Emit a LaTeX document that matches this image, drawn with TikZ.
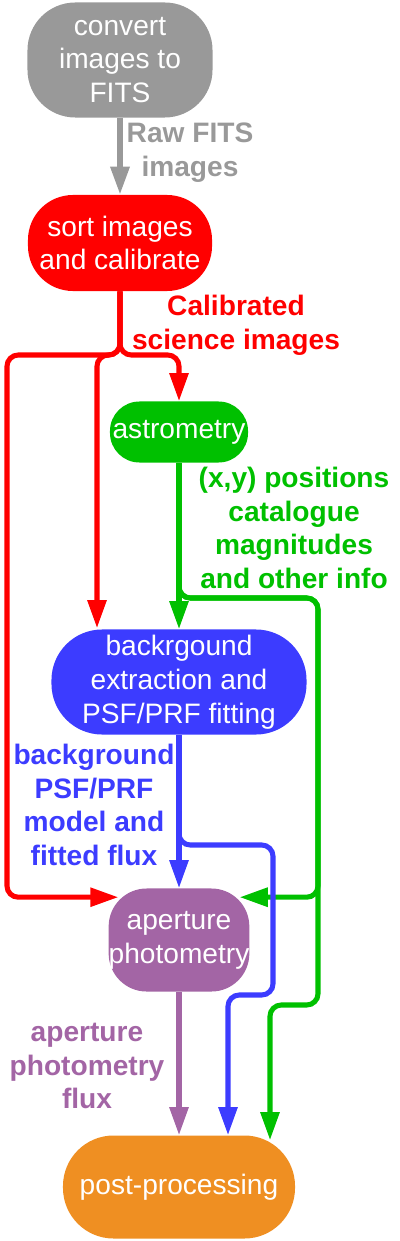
\documentclass[tikz,border=0pt]{standalone}
\usepackage{fontspec}
\setmainfont{Liberation Sans}
\usetikzlibrary{positioning,arrows.meta,calc}
\definecolor{fitsgray}  {HTML}{999999}
\definecolor{calred}    {HTML}{FF0000}
\definecolor{astgreen}  {HTML}{00C000}
\definecolor{psfblue}   {HTML}{3C3CFF}
\definecolor{apviolet}  {HTML}{A365A5}
\definecolor{postorange}{HTML}{EF8F22}
\tikzset{
  every node/.style={font=\fontsize{20}{24}\selectfont},
  % --- nodes
  stage/.style  = {rectangle, align=center, inner sep=0pt, text=white, draw=none},
  convbox/.style= {stage, fill=fitsgray, minimum width=4.625cm, minimum height=2.875cm, rounded corners=34pt},
  sortbox/.style= {stage, fill=calred, minimum width=4.6cm, minimum height=2.4cm, rounded corners=32pt},
  astbox/.style = {stage, fill=astgreen, minimum width=3.45cm, minimum height=1.525cm, rounded corners=21pt},
  psfbox/.style = {stage, fill=psfblue, minimum width=6.375cm, minimum height=2.625cm, rounded corners=36pt},
  apbox/.style  = {stage, fill=apviolet, minimum width=3.45cm, minimum height=2.575cm, rounded corners=27pt},
  postbox/.style= {stage, fill=postorange, minimum width=5.8cm, minimum height=2.575cm, rounded corners=36pt},
  lbl/.style    = {font=\fontsize{20}{24}\selectfont\bfseries, align=center},
  % --- edges
  e/.style      = {-{Triangle[length=20pt,width=13pt]}, line width=3.6pt, rounded corners=8pt},
  eg/.style     = {e, draw=fitsgray, line width=4pt},
  er/.style     = {e, draw=calred},
  ea/.style     = {e, draw=astgreen},
  eb/.style     = {e, draw=psfblue},
  ev/.style     = {e, draw=apviolet},
}
\begin{document}
\begin{tikzpicture}[x=0.025cm,y=-0.025cm]
  \useasboundingbox (0,0) rectangle (400,1241);
  \node[convbox] (convert) at (120,60) {convert\\images to\\FITS};
  \node[sortbox] (sort) at (120,243) {sort images\\and calibrate};
  \node[astbox] (astrometry) at (179,432) {astrometry};
  \node[psfbox] (psf) at (179,682) {backrgound\\extraction and\\PSF/PRF fitting};
  \node[apbox] (aperture) at (179,940) {aperture\\photometry};
  \node[postbox] (post) at (179,1187) {post-processing};

  \coordinate (redsplit) at (120,355);
  \coordinate (greensplit) at (179,598);
  \coordinate (bluesplit) at (179,845);

  % raw images
  \draw[eg] (convert) -- (sort);
  \node[lbl, text=fitsgray] (rawlbl) at (190,153) {Raw FITS\\images};
  % calibrated images
  \draw[er] (sort.south) -- (redsplit) -| (astrometry.north);
  \draw[er] (sort.south) -- (redsplit) -| ($(psf.north)+(-82,-1)$);
  \draw[er] (sort.south) -- (redsplit) -- (7,355) |- ($(aperture.north west)+(10,9)$);
  \node[lbl, text=calred] (callbl) at (236,325) {Calibrated\\science images};
  % astrometry output
  \draw[ea] (astrometry) -- (psf);
  \draw[ea] (astrometry.south) -- (greensplit) -- (318,598) |- ($(aperture.north east)+(-10,9)$);
  \draw[ea] (astrometry.south) -- (greensplit) -- (318,598) -- (318,1005) -| ($(post.north)+(91,5)$);
  \node[lbl, text=astgreen] (astlbl) at (294,528) {(x,y) positions\\catalogue\\magnitudes\\and other info};
  % psf output
  \draw[eb] (psf) -- (aperture);
  \draw[eb] (psf.south) -- (bluesplit) -- (273,845) -- (273,995) -| ($(post.north)+(49,0)$);
  \node[lbl, text=psfblue] (psflbl) at (94,805) {background\\PSF/PRF\\model and\\fitted flux};
  % photometry output
  \draw[ev] (aperture) -- (post);
  \node[lbl, text=apviolet] (aplbl) at (87,1066) {aperture\\photometry\\flux};
\end{tikzpicture}
\end{document}
